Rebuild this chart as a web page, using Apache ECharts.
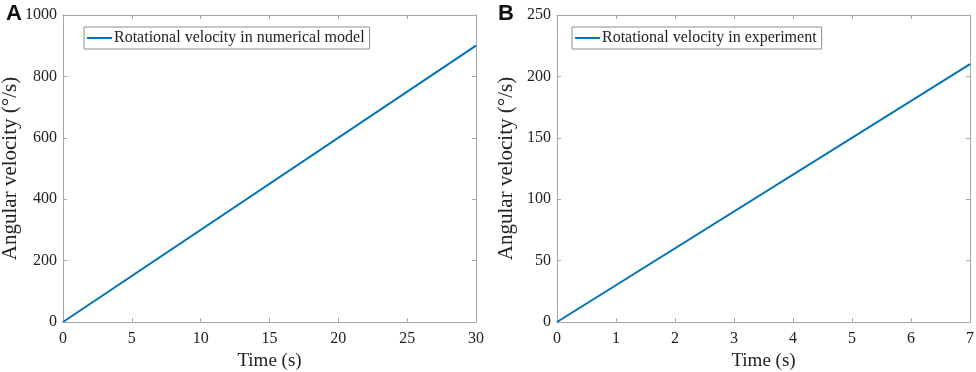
<!DOCTYPE html>
<html>
<head>
<meta charset="utf-8">
<script src="https://cdn.jsdelivr.net/npm/echarts@6/dist/echarts.min.js"></script>
<style>
  html, body { margin: 0; padding: 0; background: #fff; }
  #main { width: 976px; height: 372px; }
</style>
</head>
<body>
<div id="main"></div>
<script>
// panel A: numerical model
const timeA = [0, 30];
const velA = [0, 900];
// panel B: experiment
const timeB = [0, 7];
const velB = [0, 210];

const nameA = 'Rotational velocity in numerical model';
const nameB = 'Rotational velocity in experiment';

const font = '"Liberation Serif", "Times New Roman", serif';
const axisGray = '#a6a6a6';
const lineBlue = '#0072BD';

function pairs(xs, ys) {
  return xs.map((x, i) => [x, ys[i]]);
}

// main axis (with labels) and mirror axis (box edge with inward ticks)
function xAx(grid, max, interval, mirror) {
  return {
    type: 'value', gridIndex: grid, min: 0, max: max, interval: interval,
    position: mirror ? 'top' : 'bottom',
    name: mirror ? '' : 'Time (s)',
    nameLocation: 'middle', nameGap: 28,
    nameTextStyle: { fontFamily: font, fontSize: 19, color: '#222' },
    axisLine: { show: true, onZero: false, lineStyle: { color: axisGray, width: 1 } },
    axisTick: { show: true, inside: true, length: 4, lineStyle: { color: axisGray } },
    axisLabel: { show: !mirror, fontFamily: font, fontSize: 16, color: '#222', margin: 9 },
    splitLine: { show: false }
  };
}

function yAx(grid, max, interval, mirror) {
  return {
    type: 'value', gridIndex: grid, min: 0, max: max, interval: interval,
    position: mirror ? 'right' : 'left',
    name: mirror ? '' : 'Angular velocity (°/s)',
    nameLocation: 'middle', nameGap: 40,
    nameTextStyle: { fontFamily: font, fontSize: 21, color: '#222' },
    axisLine: { show: true, onZero: false, lineStyle: { color: axisGray, width: 1 } },
    axisTick: { show: true, inside: true, length: 4, lineStyle: { color: axisGray } },
    axisLabel: { show: !mirror, fontFamily: font, fontSize: 16, color: '#222', margin: 6,
      formatter: v => String(v) },
    splitLine: { show: false }
  };
}

function legendAt(left, name) {
  return {
    data: [name], left: left, top: 27, orient: 'vertical',
    icon: 'rect', itemWidth: 25, itemHeight: 2, itemGap: 0,
    padding: [3, 5, 3, 3],
    borderColor: '#8c8c8c', borderWidth: 1, backgroundColor: '#fff',
    textStyle: { fontFamily: font, fontSize: 16, color: '#222', padding: [0, 0, 0, -3] }
  };
}

const option = {
  animation: false,
  title: [
    { text: 'A', left: 1, top: -2, textStyle: { fontFamily: 'Liberation Sans, Arial, sans-serif', fontSize: 22, fontWeight: 'bold', color: '#111' } },
    { text: 'B', left: 493, top: -2, textStyle: { fontFamily: 'Liberation Sans, Arial, sans-serif', fontSize: 22, fontWeight: 'bold', color: '#111' } }
  ],
  grid: [
    { left: 63, top: 15, width: 413, height: 307, outerBoundsMode: 'none' },
    { left: 557, top: 15, width: 413, height: 307, outerBoundsMode: 'none' }
  ],
  legend: [legendAt(84, nameA), legendAt(572, nameB)],
  xAxis: [
    xAx(0, 30, 5, false), xAx(0, 30, 5, true),
    xAx(1, 7, 1, false), xAx(1, 7, 1, true)
  ],
  yAxis: [
    yAx(0, 1000, 200, false), yAx(0, 1000, 200, true),
    yAx(1, 250, 50, false), yAx(1, 250, 50, true)
  ],
  series: [
    {
      name: nameA, type: 'line', xAxisIndex: 0, yAxisIndex: 0,
      data: pairs(timeA, velA), showSymbol: false,
      lineStyle: { color: lineBlue, width: 2 }, itemStyle: { color: lineBlue }
    },
    {
      name: nameB, type: 'line', xAxisIndex: 2, yAxisIndex: 2,
      data: pairs(timeB, velB), showSymbol: false,
      lineStyle: { color: lineBlue, width: 2 }, itemStyle: { color: lineBlue }
    }
  ]
};

const myChart = echarts.init(document.getElementById('main'));
myChart.setOption(option);
</script>
</body>
</html>
